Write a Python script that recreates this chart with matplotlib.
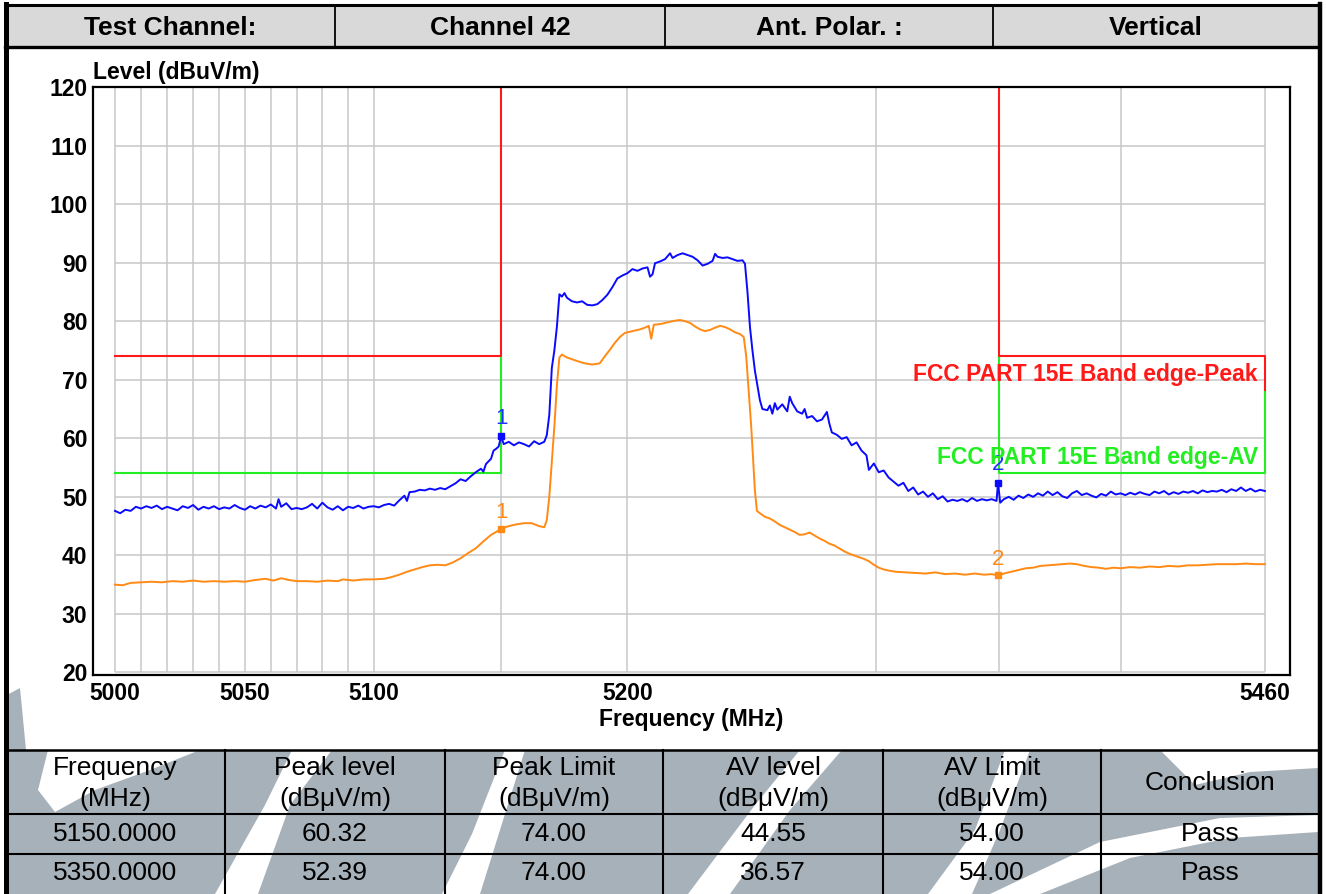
import matplotlib
matplotlib.use("Agg")
import matplotlib.pyplot as plt
from matplotlib.patches import Rectangle, Polygon
from matplotlib.ticker import FixedLocator, FixedFormatter, NullLocator

plt.rcParams['font.family'] = ['Liberation Sans', 'DejaVu Sans']

W, H = 1326, 894

# header row
header_cells = ["Test Channel:", "Channel 42", "Ant. Polar. :", "Vertical"]

# peak detector trace (MHz, dBuV/m)
freq_peak = [5000, 5002, 5004, 5006, 5008, 5010, 5012, 5014, 5016, 5018, 5020, 5022, 5024, 5026, 5028,
             5030, 5032, 5034, 5036, 5038, 5040, 5042, 5044, 5046, 5048, 5050, 5052, 5054, 5056, 5058,
             5060, 5062, 5063, 5064, 5066, 5068, 5070, 5072, 5074, 5076, 5078, 5080, 5082, 5084, 5086,
             5088, 5090, 5092, 5094, 5096, 5098, 5100, 5102, 5104, 5106, 5108, 5110, 5112, 5113, 5114,
             5116, 5118, 5120, 5122, 5124, 5126, 5128, 5130, 5132, 5134, 5136, 5138, 5140, 5142, 5143,
             5144, 5146, 5147, 5148, 5149, 5150, 5151, 5153, 5155, 5157, 5159, 5161, 5163, 5165, 5167,
             5168, 5169, 5170, 5171, 5172, 5173, 5174, 5175, 5176, 5178, 5180, 5182, 5184, 5186, 5188,
             5190, 5192, 5194, 5196, 5198, 5200, 5202, 5204, 5206, 5208, 5209, 5210, 5211, 5213, 5215,
             5217, 5218, 5220, 5222, 5224, 5226, 5228, 5230, 5232, 5234, 5235, 5236, 5238, 5240, 5242,
             5244, 5246, 5247, 5248, 5249, 5250, 5251, 5252, 5253, 5254, 5256, 5257, 5258, 5259, 5260,
             5262, 5264, 5265, 5266, 5268, 5270, 5271, 5272, 5274, 5276, 5278, 5280, 5281, 5282, 5284,
             5286, 5288, 5290, 5292, 5294, 5296, 5297, 5299, 5301, 5303, 5305, 5307, 5309, 5311, 5313,
             5315, 5317, 5319, 5321, 5323, 5325, 5327, 5329, 5331, 5333, 5335, 5337, 5339, 5341, 5343,
             5345, 5347, 5349, 5349.6, 5350.5, 5352, 5354, 5356, 5358, 5360, 5362, 5364, 5366, 5368, 5370,
             5372, 5374, 5376, 5378, 5380, 5382, 5384, 5386, 5388, 5390, 5392, 5394, 5396, 5398, 5400,
             5402, 5404, 5406, 5408, 5410, 5412, 5414, 5416, 5418, 5420, 5422, 5424, 5426, 5428, 5430,
             5432, 5434, 5436, 5438, 5440, 5442, 5444, 5446, 5448, 5450, 5452, 5454, 5456, 5458, 5460]
level_peak = [47.6, 47.2, 47.8, 47.6, 48.3, 48.0, 48.4, 48.1, 48.5, 47.9, 48.3, 48.0, 47.7, 48.4, 48.1,
              48.6, 47.8, 48.3, 48.0, 48.4, 47.9, 48.2, 48.0, 48.6, 48.1, 47.8, 48.4, 48.0, 48.5, 48.2,
              48.7, 48.0, 49.6, 48.3, 48.9, 47.9, 48.1, 47.9, 48.2, 48.8, 48.0, 49.0, 48.2, 47.8, 48.4,
              47.7, 48.3, 48.1, 48.5, 48.0, 48.3, 48.4, 48.2, 48.6, 48.8, 48.5, 49.4, 50.2, 49.3, 50.8,
              50.9, 51.2, 51.1, 51.4, 51.2, 51.5, 51.3, 51.8, 52.3, 53.0, 52.7, 53.5, 54.2, 54.8, 54.3,
              55.6, 56.5, 57.9, 58.2, 58.6, 60.32, 59.0, 59.4, 58.8, 59.3, 59.0, 58.6, 59.5, 59.0, 59.4,
              60.5, 64.0, 72.0, 75.0, 79.0, 84.6, 84.2, 84.8, 84.0, 83.4, 83.2, 83.4, 82.8, 82.7, 82.9,
              83.6, 84.5, 85.8, 87.3, 87.8, 88.2, 88.9, 88.6, 89.0, 89.2, 87.6, 88.0, 89.9, 90.2, 90.6,
              91.6, 90.8, 91.3, 91.6, 91.3, 91.0, 90.4, 89.5, 89.8, 90.3, 91.5, 91.0, 90.8, 90.9, 90.6,
              90.3, 90.4, 89.8, 85.0, 79.0, 75.0, 71.5, 69.0, 66.5, 65.0, 64.8, 65.6, 64.2, 66.0, 64.9,
              65.8, 64.6, 67.1, 66.0, 64.6, 64.2, 65.0, 63.5, 63.8, 62.9, 63.2, 64.5, 62.5, 61.0, 60.6,
              59.9, 60.2, 58.8, 59.3, 57.9, 57.1, 54.6, 55.7, 54.2, 54.5, 53.3, 52.6, 51.9, 52.4, 51.0,
              51.6, 50.4, 50.9, 50.0, 50.6, 49.6, 50.1, 49.2, 49.5, 49.3, 49.6, 49.2, 49.8, 49.3, 49.6,
              49.4, 49.6, 49.3, 52.4, 49.0, 49.6, 50.0, 49.5, 50.2, 49.8, 50.4, 50.0, 50.6, 50.2, 50.9,
              50.3, 50.8, 50.1, 49.8, 50.6, 51.0, 50.3, 50.6, 50.2, 49.9, 50.5, 50.2, 50.9, 50.4, 50.6,
              50.3, 50.7, 50.4, 50.8, 50.5, 50.3, 50.9, 50.6, 51.0, 50.4, 50.8, 50.5, 50.9, 50.7, 51.0,
              50.6, 51.1, 50.8, 51.0, 50.9, 51.2, 50.8, 51.3, 51.0, 51.6, 51.0, 51.4, 50.9, 51.2, 51.0]

# average detector trace
freq_av = [5000, 5003, 5006, 5010, 5014, 5018, 5022, 5026, 5030, 5034, 5038, 5042, 5046, 5050, 5054,
           5058, 5061, 5064, 5067, 5070, 5074, 5078, 5082, 5086, 5088, 5092, 5096, 5100, 5104, 5107,
           5110, 5113, 5116, 5119, 5122, 5125, 5128, 5131, 5134, 5137, 5140, 5143, 5146, 5148, 5150,
           5153, 5156, 5159, 5162, 5165, 5167, 5168, 5169, 5170, 5171, 5172, 5173, 5174, 5176, 5178,
           5180, 5183, 5186, 5189, 5191, 5193, 5195, 5197, 5199, 5201, 5203, 5205, 5207, 5208.5, 5209.5,
           5210.5, 5213, 5216, 5219, 5221, 5223, 5225, 5227, 5229, 5231, 5233, 5235, 5237, 5239, 5241,
           5243, 5245, 5246.5, 5247.5, 5248.5, 5249.5, 5250.2, 5251, 5251.8, 5253, 5255, 5257, 5259, 5261, 5263,
           5265, 5267, 5269, 5271, 5273, 5275, 5277, 5279, 5281, 5283, 5285, 5287, 5289, 5291, 5293,
           5295, 5297, 5299, 5301, 5303, 5305, 5308, 5312, 5316, 5320, 5324, 5328, 5332, 5336, 5340,
           5344, 5347, 5349.6, 5352, 5355, 5358, 5361, 5364, 5367, 5370, 5373, 5376, 5379, 5382, 5385,
           5388, 5391, 5394, 5397, 5400, 5404, 5408, 5412, 5416, 5420, 5424, 5428, 5432, 5436, 5440,
           5444, 5448, 5452, 5456, 5460]
level_av = [35.0, 34.9, 35.3, 35.4, 35.5, 35.4, 35.6, 35.5, 35.7, 35.5, 35.6, 35.5, 35.6, 35.5, 35.8,
            36.0, 35.7, 36.1, 35.8, 35.6, 35.6, 35.5, 35.7, 35.6, 35.9, 35.7, 35.9, 35.9, 36.0, 36.3,
            36.7, 37.2, 37.6, 38.0, 38.3, 38.4, 38.3, 38.8, 39.5, 40.4, 41.2, 42.4, 43.5, 44.0, 44.55,
            45.0, 45.3, 45.5, 45.5, 45.0, 44.8, 46.0, 50.0, 56.0, 62.0, 69.0, 73.8, 74.3, 73.8, 73.5,
            73.2, 72.8, 72.6, 72.8, 74.0, 75.1, 76.3, 77.3, 78.0, 78.2, 78.4, 78.6, 78.9, 79.2, 77.0,
            79.4, 79.5, 79.8, 80.1, 80.2, 80.0, 79.7, 79.1, 78.6, 78.3, 78.5, 78.9, 79.2, 79.0, 78.6,
            78.1, 77.8, 77.3, 74.0, 68.0, 62.0, 57.0, 51.0, 47.6, 47.2, 46.6, 46.3, 45.8, 45.2, 44.8,
            44.4, 44.0, 43.5, 43.6, 43.9, 43.4, 42.9, 42.5, 42.0, 41.7, 41.2, 40.7, 40.3, 40.0, 39.7,
            39.4, 39.0, 38.4, 37.9, 37.6, 37.4, 37.2, 37.1, 37.0, 36.9, 37.1, 36.8, 36.9, 36.7, 36.9,
            36.7, 36.8, 36.57, 36.9, 37.2, 37.5, 37.8, 37.9, 38.2, 38.3, 38.4, 38.5, 38.6, 38.5, 38.2,
            38.0, 37.9, 37.7, 37.9, 37.8, 38.0, 37.9, 38.1, 38.0, 38.2, 38.1, 38.3, 38.3, 38.4, 38.5,
            38.5, 38.5, 38.6, 38.5, 38.5]

# limits
band_start, band_edge_low, band_edge_high, band_stop = 5000, 5150, 5350, 5460
peak_limit = 74.0
av_limit = 54.0
limit_join = 68.3

# marked points
marker_freq = [5150.0, 5349.6]
marker_names = ["1", "2"]
marker_peak = [60.32, 52.39]
marker_av = [44.55, 36.57]

x_ticks = [5000, 5050, 5100, 5200, 5460]
y_ticks = list(range(20, 121, 10))
grid_freqs = list(range(5000, 5101, 10)) + [5150, 5200, 5300, 5350, 5400, 5460]

# result table
table_head = [["Frequency", "(MHz)"], ["Peak level", "(dBμV/m)"], ["Peak Limit", "(dBμV/m)"],
              ["AV level", "(dBμV/m)"], ["AV Limit", "(dBμV/m)"], ["Conclusion"]]
table_freq = ["5150.0000", "5350.0000"]
table_peak = ["60.32", "52.39"]
table_peak_lim = ["74.00", "74.00"]
table_av = ["44.55", "36.57"]
table_av_lim = ["54.00", "54.00"]
table_result = ["Pass", "Pass"]

BLUE = '#0a0aff'
ORANGE = '#ff8a14'
RED = '#ff1a1a'
GREEN = '#22ee22'
GRID = '#c8c8c8'
WM = '#a7b1b9'
FS = 16.5

fig = plt.figure(figsize=(W / 100, H / 100), dpi=100)

# page layer in pixel coordinates (y down)
pg = fig.add_axes([0, 0, 1, 1], zorder=0)
pg.set_xlim(0, W)
pg.set_ylim(H, 0)
pg.axis('off')

# faded logo behind the table
wm_shapes = [
    [(7, 750), (1318, 750), (1318, 894), (7, 894)],
    [(7, 695), (20, 688), (26, 750), (7, 750)],
]
for pts in wm_shapes:
    pg.add_patch(Polygon(pts, closed=True, color=WM, lw=0, zorder=1))
white_cuts = [
    [(48, 750), (200, 750), (150, 770), (95, 790), (55, 812), (38, 790)],
    [(215, 894), (258, 894), (290, 805), (332, 750), (292, 750), (265, 805)],
    [(442, 894), (480, 894), (500, 830), (525, 750), (505, 750), (472, 834)],
    [(688, 894), (730, 894), (790, 810), (842, 750), (800, 750), (755, 805)],
    [(928, 894), (972, 894), (1000, 830), (1030, 750), (1005, 750), (975, 830)],
    [(1160, 750), (1318, 750), (1318, 768), (1250, 772), (1195, 785)],
    [(990, 894), (1040, 894), (1130, 858), (1230, 838), (1318, 832), (1318, 815), (1220, 818), (1100, 842)],
]
for pts in white_cuts:
    pg.add_patch(Polygon(pts, closed=True, color='white', lw=0, zorder=2))

# header band
pg.add_patch(Rectangle((5, 5), 1314, 42, color='#d9d9d9', lw=0, zorder=1))
cell_edges = [5, 335, 665, 993, 1319]
for i, txt in enumerate(header_cells):
    cx = (cell_edges[i] + cell_edges[i + 1]) / 2
    pg.text(cx, 28, txt, ha='center', va='center', fontsize=19, fontweight='bold', zorder=5)
for x in cell_edges[1:-1]:
    pg.plot([x, x], [5, 47], color='black', lw=1.3, zorder=4)
pg.plot([5, 1319], [5, 5], color='black', lw=2.2, zorder=4)
pg.plot([5, 1319], [47, 47], color='black', lw=2.4, zorder=4)

# outer frame
pg.plot([5.5, 5.5], [4, H], color='black', lw=3.6, zorder=4)
pg.plot([1319.5, 1319.5], [4, H], color='black', lw=3.2, zorder=4)

# table grid
col_edges = [5, 225, 445, 663, 883, 1101, 1319]
row_y = [750, 814, 854]
pg.plot([5, 1319], [750, 750], color='black', lw=1.8, zorder=4)
for y in row_y[1:]:
    pg.plot([5, 1319], [y, y], color='black', lw=1.5, zorder=4)
for x in col_edges[1:-1]:
    pg.plot([x, x], [750, H], color='black', lw=1.5, zorder=4)

for i, lines in enumerate(table_head):
    cx = (col_edges[i] + col_edges[i + 1]) / 2
    if len(lines) == 2:
        pg.text(cx, 768, lines[0], ha='center', va='center', fontsize=19, zorder=5)
        pg.text(cx, 799, lines[1], ha='center', va='center', fontsize=19, zorder=5)
    else:
        pg.text(cx, 783, lines[0], ha='center', va='center', fontsize=19, zorder=5)

columns = [table_freq, table_peak, table_peak_lim, table_av, table_av_lim, table_result]
for i, col in enumerate(columns):
    cx = (col_edges[i] + col_edges[i + 1]) / 2
    for j, val in enumerate(col):
        pg.text(cx, [834, 873][j], val, ha='center', va='center', fontsize=19, zorder=5)

# spectrum plot
ax = fig.add_axes([93 / W, 1 - 675 / H, (1290 - 93) / W, (675 - 87) / H], zorder=2)
ax.set_xscale('log')
ax.set_xlim(4991.6, 5470.5)
ax.set_ylim(19.57, 120)
ax.set_facecolor('white')

ax.vlines(grid_freqs, 20, 120, color=GRID, lw=1.1, zorder=1)
ax.hlines(y_ticks[:-1], band_start, band_stop, color=GRID, lw=1.1, zorder=1)

# limit lines
ax.plot([band_start, band_edge_low, band_edge_low], [av_limit, av_limit, peak_limit], color=GREEN, lw=1.5, zorder=2)
ax.plot([band_edge_high, band_edge_high, band_stop, band_stop], [peak_limit, av_limit, av_limit, limit_join],
        color=GREEN, lw=1.5, zorder=2)
ax.plot([band_start, band_edge_low, band_edge_low], [peak_limit, peak_limit, 120], color=RED, lw=1.5, zorder=2)
ax.plot([band_edge_high, band_edge_high, band_stop, band_stop], [120, peak_limit, peak_limit, limit_join],
        color=RED, lw=1.5, zorder=2)

ax.plot(freq_av, level_av, color=ORANGE, lw=1.4, zorder=3)
ax.plot(freq_peak, level_peak, color=BLUE, lw=1.4, zorder=4)

for f, name, pk, av in zip(marker_freq, marker_names, marker_peak, marker_av):
    ax.plot(f, pk, marker='s', ms=4, color=BLUE, zorder=5)
    ax.plot(f, av, marker='s', ms=4, color=ORANGE, zorder=5)
    ax.annotate(name, (f, pk), xytext=(0, 18), textcoords='offset pixels', ha='center', va='center',
                fontsize=16, color='#2030ff', zorder=6)
    ax.annotate(name, (f, av), xytext=(0, 16), textcoords='offset pixels', ha='center', va='center',
                fontsize=16, color=ORANGE, zorder=6)

ax.text(5457.1, 70.85, "FCC PART 15E Band edge-Peak", color=RED, fontsize=FS, fontweight='bold',
        ha='right', va='center', zorder=6)
ax.text(5457.1, 56.7, "FCC PART 15E Band edge-AV", color=GREEN, fontsize=FS, fontweight='bold',
        ha='right', va='center', zorder=6)

ax.xaxis.set_major_locator(FixedLocator(x_ticks))
ax.xaxis.set_major_formatter(FixedFormatter([str(t) for t in x_ticks]))
ax.xaxis.set_minor_locator(NullLocator())
ax.yaxis.set_major_locator(FixedLocator(y_ticks))
ax.yaxis.set_minor_locator(NullLocator())
ax.tick_params(length=0, labelsize=FS)
ax.tick_params(axis='x', pad=5)
ax.tick_params(axis='y', pad=4)
for lab in ax.get_xticklabels() + ax.get_yticklabels():
    lab.set_fontweight('bold')
for sp in ax.spines.values():
    sp.set_linewidth(1.6)
    sp.set_color('black')

ax.set_xlabel("Frequency (MHz)", fontsize=FS, fontweight='bold', labelpad=2)
ax.text(0, 1.005, "Level (dBuV/m)", transform=ax.transAxes, fontsize=FS, fontweight='bold',
        ha='left', va='bottom')

fig.savefig("out.png", dpi=100)
